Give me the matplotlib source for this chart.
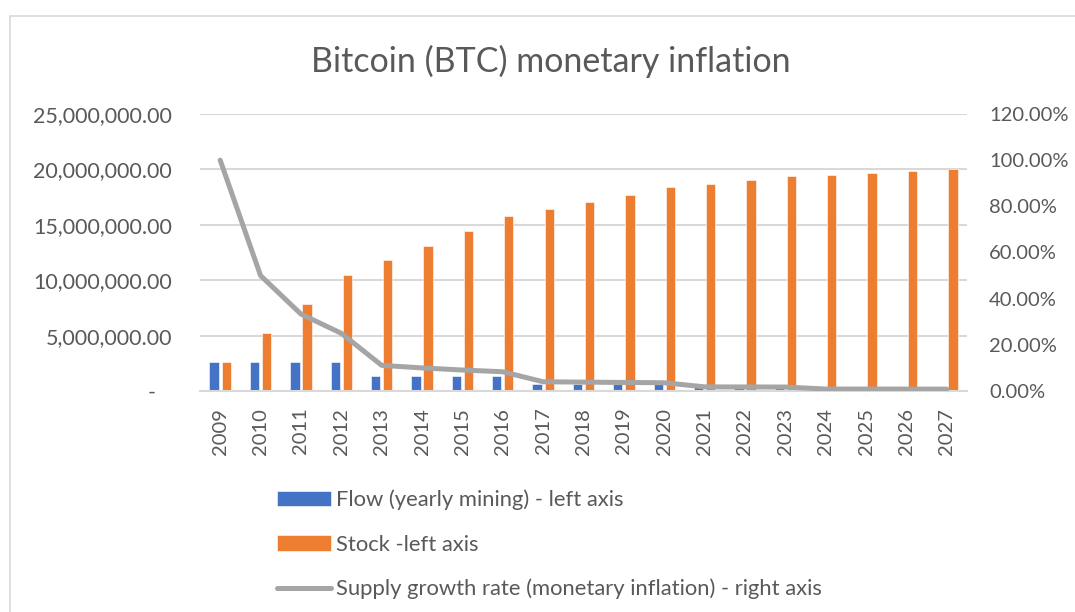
import matplotlib
matplotlib.use("Agg")
import matplotlib.pyplot as plt
from matplotlib.patches import Rectangle
from matplotlib.ticker import FuncFormatter, MultipleLocator

years = ["2009", "2010", "2011", "2012", "2013", "2014", "2015", "2016", "2017", "2018",
         "2019", "2020", "2021", "2022", "2023", "2024", "2025", "2026", "2027"]
flow = [2625000, 2625000, 2625000, 2625000, 1312500, 1312500, 1312500, 1312500,
        656250, 656250, 656250, 656250, 328125, 328125, 328125,
        164062.5, 164062.5, 164062.5, 164062.5]
stock = [2625000, 5250000, 7875000, 10500000, 11812500, 13125000, 14437500, 15750000,
         16406250, 17062500, 17718750, 18375000, 18703125, 19031250, 19359375,
         19523438, 19687500, 19851563, 20015625]
growth = [1.0, 0.50, 0.3333, 0.25, 0.1111, 0.10, 0.0909, 0.0833,
          0.04, 0.0385, 0.0370, 0.0357, 0.0179, 0.0175, 0.0172,
          0.0085, 0.0084, 0.0083, 0.0082]

labels = ["Flow (yearly mining) - left axis", "Stock -left axis",
          "Supply growth rate (monetary inflation) - right axis"]
title = "Bitcoin (BTC) monetary inflation"

BLUE, ORANGE, GRAY = "#4472C4", "#ED7D31", "#A5A5A5"
TXT = "#595959"
GRID = "#D9D9D9"

plt.rcParams['font.family'] = ['Lato', 'DejaVu Sans']

fig = plt.figure(figsize=(10.75, 6.12), dpi=100)
fig.patch.set_facecolor("white")

# outer chart border
fig.patches.append(Rectangle((10/1075, -0.1), 1.2, 1 - 16/612 + 0.1,
                             transform=fig.transFigure, fill=False,
                             edgecolor=GRID, linewidth=1.2))

ax = fig.add_axes([200/1075, 1 - 391/612, 767/1075, (391 - 114)/612])
x = list(range(len(years)))
w = 0.23
b1 = ax.bar([i - 0.15 for i in x], flow, width=w, color=BLUE, edgecolor="white", linewidth=0.4, zorder=2)
b2 = ax.bar([i + 0.15 for i in x], stock, width=w, color=ORANGE, edgecolor="white", linewidth=0.4, zorder=2)
ax.set_xlim(-0.5, len(years) - 0.5)
ax.set_ylim(0, 25000000)
ax.yaxis.set_major_locator(MultipleLocator(5000000))
ax.yaxis.set_major_formatter(FuncFormatter(lambda v, p: "-   " if v == 0 else f"{v:,.2f}"))
ax.grid(axis="y", color=GRID, linewidth=1.5, zorder=0)
ax.set_axisbelow(True)
for s in ["top", "right", "left"]:
    ax.spines[s].set_visible(False)
ax.spines["bottom"].set_color(GRID)
ax.spines["bottom"].set_linewidth(1.5)
ax.set_xticks(x)
ax.set_xticklabels(years, rotation=90)
ax.tick_params(axis="x", length=0, pad=12, labelsize=14.5, labelcolor=TXT)
ax.tick_params(axis="y", length=0, pad=20, labelsize=15.5, labelcolor=TXT)

ax2 = ax.twinx()
ln, = ax2.plot(x, growth, color=GRAY, linewidth=3.6, solid_capstyle="round",
               solid_joinstyle="round", zorder=3)
ax2.set_ylim(0, 1.2)
ax2.yaxis.set_major_locator(MultipleLocator(0.2))
ax2.yaxis.set_major_formatter(FuncFormatter(lambda v, p: f"{v*100:.2f}%"))
for s in ["top", "right", "left", "bottom"]:
    ax2.spines[s].set_visible(False)
ax2.tick_params(axis="y", length=0, pad=16, labelsize=14.5, labelcolor=TXT)

fig.text(0.512, 1 - 61/612, title, ha="center", va="center", fontsize=24.5, color=TXT)

leg = fig.legend([b1, b2, ln], labels, loc="upper left",
                 bbox_to_anchor=(268/1075, 1 - 481/612), frameon=False,
                 fontsize=15.8, labelcolor=TXT, handlelength=2.45, handletextpad=0.25,
                 labelspacing=1.1, borderaxespad=0)

fig.savefig("out.png", dpi=100, facecolor="white")
